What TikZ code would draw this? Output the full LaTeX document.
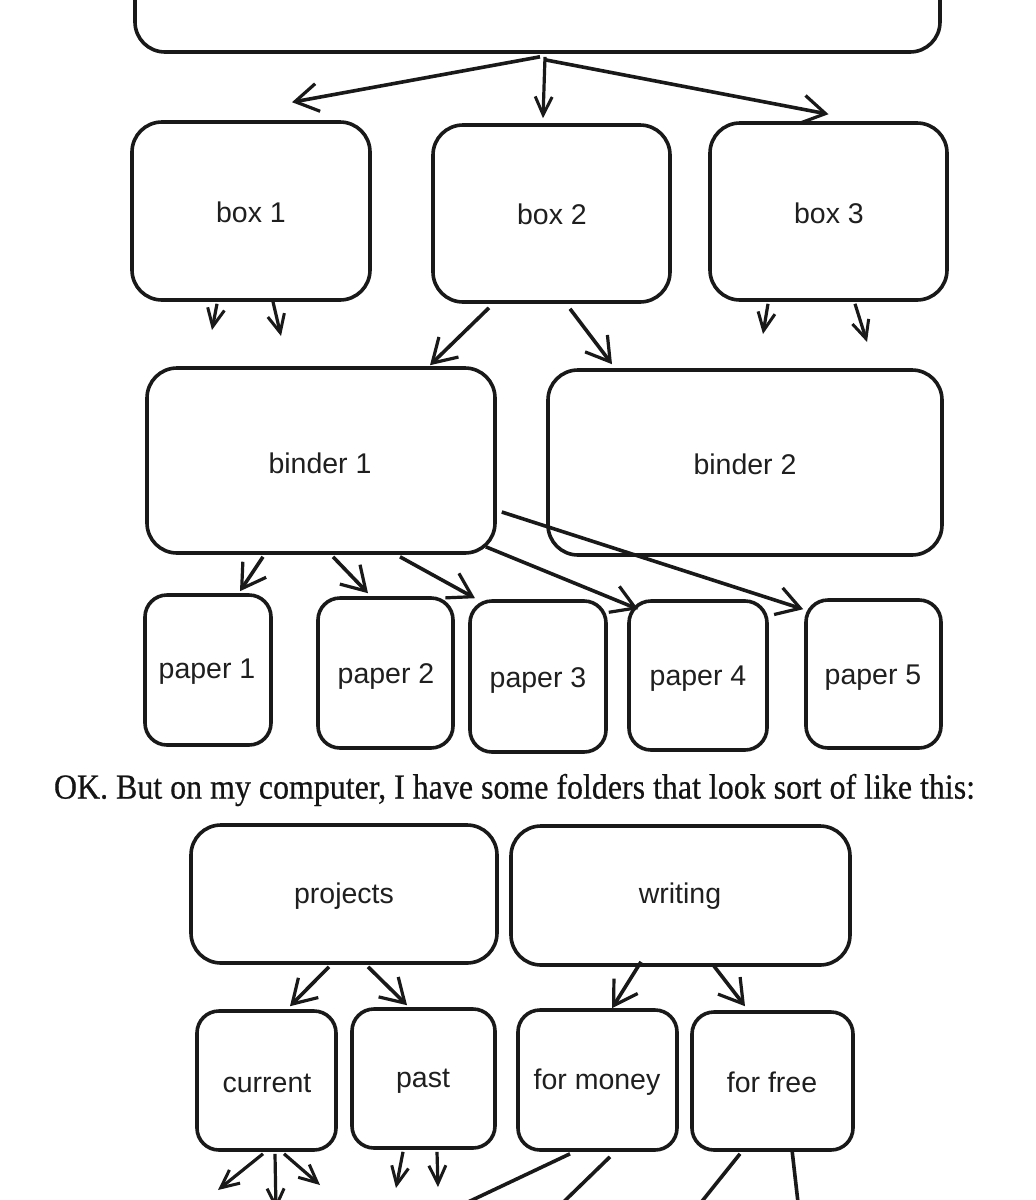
\documentclass[tikz,border=0pt]{standalone}
\usepackage{fontspec}
\setmainfont{Liberation Serif}
\newfontfamily\labelfont{Liberation Sans}
\newfontfamily\capfont[FakeBold=0.6]{Liberation Serif}
\usetikzlibrary{arrows.meta}
\begin{document}
\begin{tikzpicture}[x=1pt,y=-1pt,
  lbl/.style={font=\labelfont\fontsize{28.5}{32}\selectfont, text=black!88},
  bx/.style={draw=black!90, line width=3.6pt, rounded corners=30pt, inner sep=0pt},
  sbx/.style={bx, rounded corners=22pt},
  conn/.style={draw=black!90, line width=3.6pt, -{Straight Barb[length=23pt,width=28pt,line width=3.2pt]}},
  sconn/.style={draw=black!90, line width=3.2pt, -{Straight Barb[length=18pt,width=17pt,line width=3pt]}},
  plain/.style={draw=black!90, line width=3.6pt}]
\useasboundingbox[fill=white] (0,0) rectangle (1036,1200);
\clip (0,0) rectangle (1036,1200);

% top level
\node[bx, minimum width=805pt, minimum height=132pt] (top) at (537.5,-14) {};
\node[bx, minimum width=238pt, minimum height=178pt] (b1) at (251,211) {};
\node[lbl] at (251,212) (t1) {box 1};
\node[bx, minimum width=237pt, minimum height=177pt] (b2) at (551.5,213.5) {};
\node[lbl] at (552,214) (t2) {box 2};
\node[bx, minimum width=237pt, minimum height=177pt] (b3) at (828.5,211.5) {};
\node[lbl] at (829,213) (t3) {box 3};

\node[bx, minimum width=348pt, minimum height=185pt] (bi1) at (321,460.5) {};
\node[lbl] at (320,463) (tb1) {binder 1};
\node[bx, minimum width=394pt, minimum height=185pt] (bi2) at (745,462.5) {};
\node[lbl] at (745,464) (tb2) {binder 2};

\node[sbx, minimum width=126pt, minimum height=150pt] (p1) at (208,670) {};
\node[lbl] at (207,672) (tp1) {paper 1};
\node[sbx, minimum width=135pt, minimum height=150pt] (p2) at (385.5,673) {};
\node[lbl] at (386,676) (tp2) {paper 2};
\node[sbx, minimum width=136pt, minimum height=151pt] (p3) at (538,676.5) {};
\node[lbl] at (538,680) (tp3) {paper 3};
\node[sbx, minimum width=138pt, minimum height=149pt] (p4) at (698,675.5) {};
\node[lbl] at (698,679) (tp4) {paper 4};
\node[sbx, minimum width=135pt, minimum height=148pt] (p5) at (873.5,674) {};
\node[lbl] at (873,678) (tp5) {paper 5};

% caption
\node[text=black!92] (cap) at (514.5,790) {\scalebox{1}[1.1]{\resizebox{921pt}{!}{\capfont OK. But on my computer, I have some folders that look sort of like this:}}};

% folders
\node[bx, minimum width=306pt, minimum height=138pt] (proj) at (344,894) {};
\node[lbl] at (344,896) (tproj) {projects};
\node[bx, minimum width=339pt, minimum height=139pt] (wri) at (680.5,895.5) {};
\node[lbl] at (680,896) (twri) {writing};

\node[sbx, minimum width=139pt, minimum height=139pt] (cur) at (266.5,1080.5) {};
\node[lbl] at (267,1083) (tcur) {current};
\node[sbx, minimum width=143pt, minimum height=139pt] (past) at (423.5,1078.5) {};
\node[lbl] at (423,1081) (tpast) {past};
\node[sbx, minimum width=159pt, minimum height=140pt] (fm) at (597.5,1080) {};
\node[lbl] at (597,1082) (tfm) {for money};
\node[sbx, minimum width=161pt, minimum height=138pt] (ff) at (772.5,1081) {};
\node[lbl] at (772,1082) (tff) {for free};

% free ends
\coordinate (e1a) at (212,330);
\coordinate (e1b) at (281,336);
\coordinate (e3a) at (763,334);
\coordinate (e3b) at (867,342);
\coordinate (ec1) at (218,1190);
\coordinate (ec2) at (276,1210);
\coordinate (ec3) at (320,1185);
\coordinate (ep1) at (396,1188);
\coordinate (ep2) at (438,1187);
\coordinate (em1) at (430,1220);
\coordinate (em2) at (545,1220);
\coordinate (ef1) at (687,1220);
\coordinate (ef2) at (800,1220);

% connectors top
\draw[conn] ([xshift=2.5pt,yshift=-3pt]top.south) -- ([xshift=41pt,yshift=18pt]b1.north);
\draw[sconn] ([xshift=7.5pt,yshift=-3pt]top.south) -- ([xshift=-8.5pt,yshift=5pt]b2.north);
\draw[conn] ([xshift=7.5pt,yshift=-6pt]top.south) -- ([xshift=0pt,yshift=7pt]b3.north);

\draw[sconn] ([xshift=-34pt,yshift=-2pt]b1.south) -- (e1a);
\draw[sconn] ([xshift=22pt]b1.south) -- (e1b);
\draw[conn] ([xshift=-62.5pt,yshift=-4pt]b2.south) -- ([xshift=109pt,yshift=1pt]bi1.north);
\draw[conn] ([xshift=18.5pt,yshift=-5pt]b2.south) -- ([xshift=-133pt,yshift=4pt]bi2.north);
\draw[sconn] ([xshift=-60.5pt,yshift=-2pt]b3.south) -- (e3a);
\draw[sconn] ([xshift=26.5pt,yshift=-2pt]b3.south) -- (e3b);

% binder 1 to papers
\draw[conn] ([xshift=-58pt,yshift=-2pt]bi1.south) -- ([xshift=32pt,yshift=2pt]p1.north);
\draw[conn] ([xshift=12pt,yshift=-2pt]bi1.south) -- ([xshift=-17.5pt,yshift=3pt]p2.north);
\draw[conn] ([xshift=79pt,yshift=-2pt]bi1.south) -- ([xshift=-63pt,yshift=1pt]p3.north);
\draw[conn] ([xshift=-11pt,yshift=8pt]bi1.south east) -- ([xshift=11pt,yshift=-10pt]p4.north west);
\draw[conn] ([xshift=5pt,yshift=-51.5pt]bi1.east) -- ([xshift=-1pt,yshift=-11pt]p5.north west);

% folders
\draw[conn] ([xshift=-15pt,yshift=-2pt]proj.south) -- ([xshift=23.5pt,yshift=3pt]cur.north);
\draw[conn] ([xshift=24pt,yshift=-2pt]proj.south) -- ([xshift=-16.5pt,yshift=2pt]past.north);
\draw[conn] ([xshift=-39.5pt,yshift=5pt]wri.south) -- ([xshift=14.5pt,yshift=0pt]fm.north);
\draw[conn] ([xshift=32.5pt,yshift=2pt]wri.south) -- ([xshift=-27.5pt,yshift=4pt]ff.north);

\draw[sconn] ([xshift=-3.5pt,yshift=-2pt]cur.south) -- (ec1);
\draw[sconn] ([xshift=8.5pt,yshift=-2pt]cur.south) -- (ec2);
\draw[sconn] ([xshift=17.5pt,yshift=-2pt]cur.south) -- (ec3);
\draw[sconn] ([xshift=-20.5pt,yshift=-2pt]past.south) -- (ep1);
\draw[sconn] ([xshift=13.5pt,yshift=-2pt]past.south) -- (ep2);
\draw[plain] ([xshift=-27.5pt,yshift=-2pt]fm.south) -- (em1);
\draw[plain] ([xshift=12.5pt,yshift=-5pt]fm.south) -- (em2);
\draw[plain] ([xshift=-32.5pt,yshift=-2pt]ff.south) -- (ef1);
\draw[plain] ([xshift=19.5pt,yshift=2pt]ff.south) -- (ef2);
\end{tikzpicture}
\end{document}
